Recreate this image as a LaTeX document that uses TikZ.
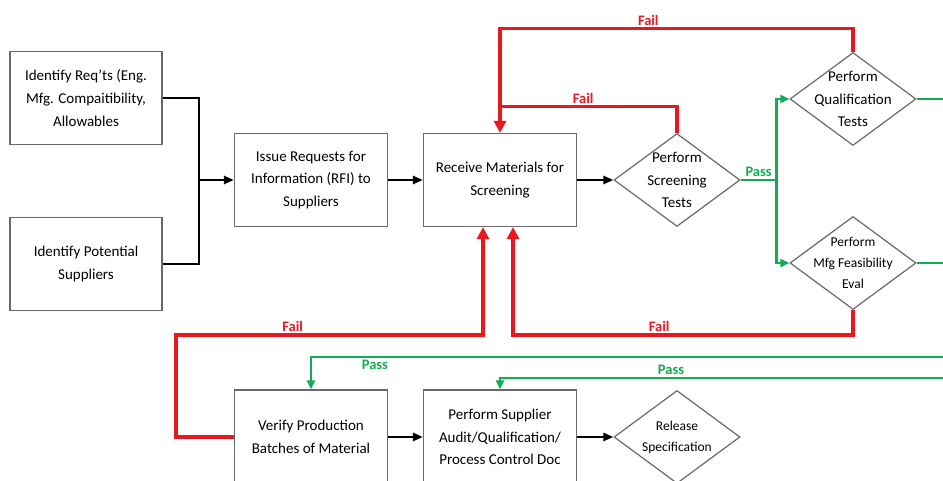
\documentclass[tikz,border=0pt]{standalone}
\usepackage{fontspec}
\setmainfont{Carlito}
\usepackage{tikz}
\usetikzlibrary{shapes, positioning, arrows.meta}
\usepackage{xcolor}
\definecolor{failred}{RGB}{234,24,30}
\definecolor{passgreen}{RGB}{18,172,82}
\definecolor{edgegray}{RGB}{105,105,105}

\begin{document}
\begin{tikzpicture}[x=1pt, y=1pt, on grid,
    procbox/.style={draw=edgegray, line width=1.2pt, rectangle, minimum width=153pt, minimum height=93pt, align=center, font=\fontsize{15}{22.7}\selectfont},
    decision/.style={draw=edgegray, line width=1.2pt, diamond, minimum width=126pt, minimum height=93pt, inner sep=-30pt, align=center, font=\fontsize{15}{22.7}\selectfont},
    smalltext/.style={font=\fontsize{13.5}{21}\selectfont},
    flow/.style={-{Triangle[length=10pt, width=8pt]}, line width=2.8pt},
    passline/.style={color=passgreen, line width=2.8pt},
    passflow/.style={passline, -{Triangle[length=9pt, width=8pt]}},
    failline/.style={color=failred, line width=3.2pt},
    failflow/.style={failline, -{Triangle[length=12pt, width=12pt]}},
    tag/.style={font=\bfseries\fontsize{14.5}{16}\selectfont, inner sep=2pt}]
    \useasboundingbox (0,0) rectangle (943,481);
    \clip (0,0) rectangle (943,481);

    \node[procbox, minimum width=152pt] (1) at (86,383) {Identify Req’ts (Eng.\\Mfg. Compaitibility,\\Allowables};
    \node[procbox, minimum width=152pt] (2) [below=166pt of 1] {Identify Potential\\Suppliers};
    \node[procbox] (3) [below right=82pt and 225pt of 1] {Issue Requests for\\Information (RFI) to\\Suppliers};
    \node[procbox] (4) [right=189pt of 3] {Receive Materials for\\Screening};
    \node[decision] (5) [right=177pt of 4] {Perform\\Screening\\Tests};
    \node[decision] (6) [above right=81pt and 176pt of 5] {Perform\\Qualification\\Tests};
    \node[decision, smalltext] (7) [below right=83pt and 176pt of 5] {Perform\\Mfg Feasibility\\Eval};
    \node[procbox, minimum height=94pt] (8) [below=257pt of 3] {Verify Production\\Batches of Material};
    \node[procbox, minimum height=94pt] (9) [below=257pt of 4] {Perform Supplier\\Audit/Qualification/\\Process Control Doc};
    \node[decision, smalltext] (10) [below=257pt of 5] {Release\\Specification};

    \coordinate (j) at ([xshift=-35pt]3.west);
    \coordinate (s) at ([xshift=36pt]5.east);
    \coordinate (r1) at (950,124);
    \coordinate (r2) at (950,103);

    % main flow
    \draw[line width=2.8pt] (1.east) -| (j);
    \draw[line width=2.8pt] (2.east) -| (j);
    \draw[flow] (j) -- (3);
    \draw[flow] (3) -- (4);
    \draw[flow] (4) -- (5);
    \draw[flow] (8) -- (9);
    \draw[flow] (9) -- (10);

    % pass
    \draw[passline] (5.east) -- node[tag, above, text=passgreen] {Pass} (s);
    \draw[passflow] (s) |- (6.west);
    \draw[passflow] (s) |- (7.west);
    \draw[passline] (6.east) -- (6.east -| r1);
    \draw[passline] (7.east) -- (7.east -| r1);
    \draw[passflow] (r1) -| node[tag, pos=0.45, below, text=passgreen] {Pass} (8.north);
    \draw[passflow] (r2) -| node[tag, pos=0.31, above, text=passgreen] {Pass} (9.north);

    % fail
    \draw[failflow] (6.north) -- ++(0,23pt) -| node[tag, pos=0.29, above, text=failred] {Fail} (4.north);
    \draw[failline] (5.north) |- node[tag, pos=0.765, above, text=failred] {Fail} ([yshift=26pt]4.north);
    \draw[failflow] (7.south) -- ++(0,-25pt) -| node[tag, pos=0.285, above, text=failred] {Fail} ([xshift=13pt]4.south);
    \draw[failflow] (8.west) -- ++(-58pt,0) -- ++(0,102pt) -| node[tag, pos=0.19, above, text=failred] {Fail} ([xshift=-17pt]4.south);
\end{tikzpicture}
\end{document}
